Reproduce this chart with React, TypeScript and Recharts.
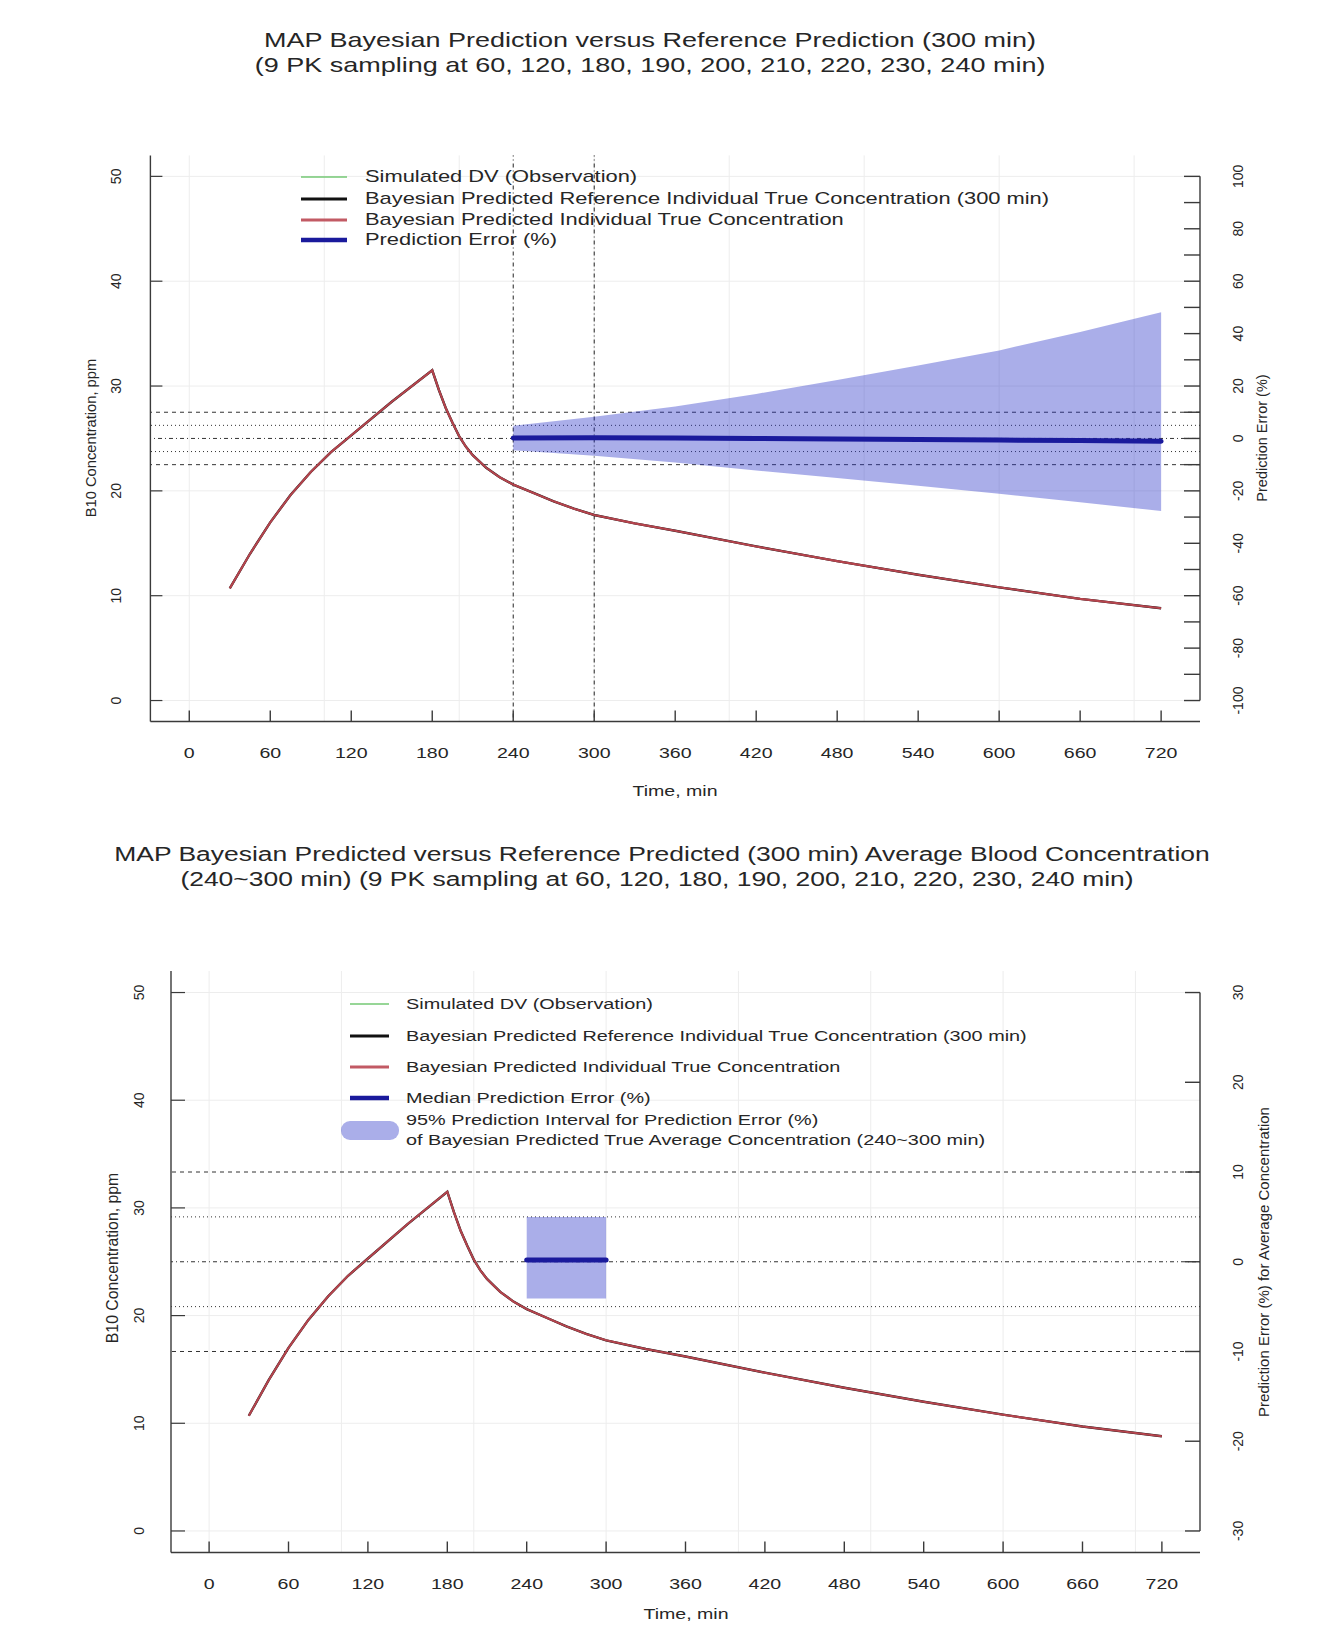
import React from "react";
import {
  ComposedChart,
  Line,
  Area,
  XAxis,
  YAxis,
  CartesianGrid,
  ReferenceLine,
} from "recharts";

// ---- data ----

// time (min) and B10 concentration (ppm) of the predicted curves
const concTimes = [
  30, 45, 60, 75, 90, 105, 120, 150, 180, 185, 190, 195, 200, 205, 210, 220,
  230, 240, 255, 270, 285, 300, 330, 360, 420, 480, 540, 600, 660, 720,
];
const predConc = [
  10.7, 14.0, 17.0, 19.6, 21.8, 23.7, 25.3, 28.5, 31.5, 29.6, 27.9, 26.5, 25.2,
  24.2, 23.4, 22.2, 21.3, 20.6, 19.8, 19.0, 18.3, 17.7, 16.9, 16.2, 14.7, 13.3,
  12.0, 10.8, 9.7, 8.8,
];
const refConc = [
  10.7, 14.0, 17.0, 19.6, 21.8, 23.7, 25.3, 28.5, 31.5, 29.6, 27.9, 26.5, 25.2,
  24.2, 23.4, 22.2, 21.3, 20.6, 19.8, 19.0, 18.3, 17.7, 16.9, 16.2, 14.7, 13.3,
  12.0, 10.8, 9.7, 8.8,
];

// prediction error (%) band, upper panel
const peTimes = [240, 300, 360, 420, 480, 540, 600, 660, 720];
const peUpper = [4.8, 8.3, 12.2, 17.0, 22.3, 27.8, 33.6, 40.6, 48.2];
const peLower = [-4.5, -6.6, -9.2, -12.2, -15.1, -18.0, -21.1, -24.3, -27.7];
const peMedian = [0.2, 0.3, 0.2, 0.0, -0.2, -0.4, -0.6, -0.8, -1.1];

// prediction error (%) of the 240~300 min average, lower panel
const avgTimes = [240, 300];
const avgUpper = [5.0, 5.0];
const avgLower = [-4.1, -4.1];
const avgMedian = [0.2, 0.2];

// axis ticks / guide levels
const xTicks = [0, 60, 120, 180, 240, 300, 360, 420, 480, 540, 600, 660, 720];
const concTicks = [0, 10, 20, 30, 40, 50];
const peTicksTop = [
  -100, -90, -80, -70, -60, -50, -40, -30, -20, -10, 0, 10, 20, 30, 40, 50, 60,
  70, 80, 90, 100,
];
const peTicksBottom = [-30, -20, -10, 0, 10, 20, 30];
const peLimits = [-10, -5, 0, 5, 10];
const samplingMarks = [240, 300];
const gridX = [0, 100, 200, 300, 400, 500, 600, 700];
const gridY = [0, 10, 20, 30, 40, 50];

// ---- look ----
const W = 1339;
const FONT = '"Liberation Sans", Arial, Helvetica, sans-serif';
const SX = 1.35; // the original raster has wide horizontal text
const AXIS = "#3a3a3a";
const TXT = "#262626";
const BAND = "#2a35c8";
const X_DOMAIN: [number, number] = [-28.8, 748.8];

const concRows = concTimes.map((t, i) => ({
  t,
  pred: predConc[i],
  ref: refConc[i],
}));
const peRows = peTimes.map((t, i) => ({
  t,
  band: [peLower[i], peUpper[i]],
  median: peMedian[i],
}));
const avgRows = avgTimes.map((t, i) => ({
  t,
  band: [avgLower[i], avgUpper[i]],
  median: avgMedian[i],
}));

const limitDash = (v: number) =>
  v === 0 ? "1 3 4 3" : Math.abs(v) === 5 ? "1 3" : "4 4";

type PanelSpec = {
  top: number;
  height: number;
  margin: { top: number; right: number; bottom: number; left: number };
  rightDomain: [number, number];
  rightTicks: number[];
  rightLabelEvery: number;
  leftTickLen: number;
  leftLabelOff: number;
  rightTickLen: number;
  rightLabelOff: number;
  vLines: number[];
  bandRows: { t: number; band: number[]; median: number }[];
  medianWidth: number;
};

// axes are 1px thick boxes so recharts still draws them; `ghost` keeps the
// same geometry on the overlay chart but draws nothing
function axes(s: PanelSpec, ghost: boolean) {
  const endTick = s.rightTicks[s.rightTicks.length - 1];
  return [
    <XAxis
      key="x"
      xAxisId="x"
      type="number"
      dataKey="t"
      domain={X_DOMAIN}
      ticks={xTicks}
      interval={0}
      allowDataOverflow
      height={1}
      tickSize={0}
      tickMargin={0}
      tickLine={false}
      axisLine={ghost ? false : { stroke: AXIS, strokeWidth: 1.4 }}
      tick={
        ghost
          ? false
          : (p: any) => (
              <g>
                <line x1={p.x} x2={p.x} y1={p.y} y2={p.y - 11} stroke={AXIS} strokeWidth={1.4} />
                <text
                  transform={`translate(${p.x},${p.y + 31}) scale(${SX},1)`}
                  textAnchor="middle"
                  dominantBaseline="central"
                  fontSize={14.5}
                  fontFamily={FONT}
                  fill={TXT}
                >
                  {p.payload.value}
                </text>
              </g>
            )
      }
    />,
    <YAxis
      key="l"
      yAxisId="l"
      type="number"
      domain={[-2, 52]}
      ticks={concTicks}
      interval={0}
      allowDataOverflow
      width={1}
      tickSize={0}
      tickMargin={0}
      tickLine={false}
      axisLine={ghost ? false : { stroke: AXIS, strokeWidth: 1.4 }}
      tick={
        ghost
          ? false
          : (p: any) => (
              <g>
                <line x1={p.x} x2={p.x + s.leftTickLen} y1={p.y} y2={p.y} stroke={AXIS} strokeWidth={1.2} />
                <text
                  transform={`translate(${p.x - s.leftLabelOff},${p.y}) rotate(-90)`}
                  textAnchor="middle"
                  dominantBaseline="central"
                  fontSize={14}
                  fontFamily={FONT}
                  fill={TXT}
                >
                  {p.payload.value}
                </text>
              </g>
            )
      }
    />,
    <YAxis
      key="r"
      yAxisId="r"
      orientation="right"
      type="number"
      domain={s.rightDomain}
      ticks={s.rightTicks}
      interval={0}
      allowDataOverflow
      width={1}
      tickSize={0}
      tickMargin={0}
      tickLine={false}
      axisLine={false}
      tick={
        ghost
          ? false
          : (p: any) => (
              <g>
                <line x1={p.x - s.rightTickLen} x2={p.x} y1={p.y} y2={p.y} stroke={AXIS} strokeWidth={1.4} />
                {p.payload.value % s.rightLabelEvery === 0 && (
                  <text
                    transform={`translate(${p.x + s.rightLabelOff},${p.y}) rotate(-90)`}
                    textAnchor="middle"
                    dominantBaseline="central"
                    fontSize={14}
                    fontFamily={FONT}
                    fill={TXT}
                  >
                    {p.payload.value}
                  </text>
                )}
              </g>
            )
      }
    />,
    !ghost && (
      <ReferenceLine
        key="raxis"
        xAxisId="x"
        yAxisId="r"
        segment={[
          { x: X_DOMAIN[1], y: -endTick },
          { x: X_DOMAIN[1], y: endTick },
        ]}
        stroke={AXIS}
        strokeWidth={1.4}
        ifOverflow="visible"
      />
    ),
  ];
}

function Panel({ s }: { s: PanelSpec }) {
  return (
    <div style={{ position: "absolute", left: 0, top: s.top, width: W, height: s.height }}>
      <div style={{ position: "absolute", left: 0, top: 0 }}>
        <ComposedChart width={W} height={s.height} data={concRows} margin={s.margin}>
          <CartesianGrid
            xAxisId="x"
            yAxisId="l"
            horizontalValues={gridY}
            verticalValues={gridX}
            stroke="#ededed"
          />
          {axes(s, false)}
          {peLimits.map((v) => (
            <ReferenceLine
              key={`lim${v}`}
              xAxisId="x"
              yAxisId="r"
              y={v}
              stroke="#333"
              strokeWidth={1}
              strokeDasharray={limitDash(v)}
            />
          ))}
          {s.vLines.map((v) => (
            <ReferenceLine
              key={`v${v}`}
              xAxisId="x"
              yAxisId="l"
              x={v}
              stroke="#222"
              strokeWidth={1}
              strokeDasharray="1 3 4 3"
            />
          ))}
          <Line
            xAxisId="x"
            yAxisId="l"
            type="linear"
            dataKey="ref"
            stroke="#151515"
            strokeWidth={2.4}
            dot={false}
            isAnimationActive={false}
          />
          <Line
            xAxisId="x"
            yAxisId="l"
            type="linear"
            dataKey="pred"
            stroke="#b5444d"
            strokeWidth={2.1}
            dot={false}
            isAnimationActive={false}
          />
        </ComposedChart>
      </div>
      <div style={{ position: "absolute", left: 0, top: 0 }}>
        <ComposedChart width={W} height={s.height} data={s.bandRows} margin={s.margin}>
          {axes(s, true)}
          <Area
            xAxisId="x"
            yAxisId="r"
            type="linear"
            dataKey="band"
            stroke="none"
            fill={BAND}
            fillOpacity={0.4}
            isAnimationActive={false}
          />
          <Line
            xAxisId="x"
            yAxisId="r"
            type="linear"
            dataKey="median"
            stroke="#1a1a9c"
            strokeWidth={s.medianWidth}
            strokeLinecap="round"
            dot={false}
            isAnimationActive={false}
          />
        </ComposedChart>
      </div>
    </div>
  );
}

const topSpec: PanelSpec = {
  top: 0,
  height: 810,
  margin: { top: 155.4, right: 138, bottom: 810 - 721.5 - 1, left: 149.4 },
  rightDomain: [-108, 108],
  rightTicks: peTicksTop,
  rightLabelEvery: 20,
  leftTickLen: 12,
  leftLabelOff: 34,
  rightTickLen: 16,
  rightLabelOff: 38,
  vLines: samplingMarks,
  bandRows: peRows,
  medianWidth: 5,
};

const bottomSpec: PanelSpec = {
  top: 810,
  height: 816,
  margin: { top: 161, right: 138, bottom: 816 - 742.5 - 1, left: 170 },
  rightDomain: [-32.4, 32.4],
  rightTicks: peTicksBottom,
  rightLabelEvery: 10,
  leftTickLen: 14,
  leftLabelOff: 32,
  rightTickLen: 15,
  rightLabelOff: 38,
  vLines: [],
  bandRows: avgRows,
  medianWidth: 5,
};

function HText({
  x,
  y,
  size,
  anchor = "start",
  children,
}: {
  x: number;
  y: number;
  size: number;
  anchor?: "start" | "middle" | "end";
  children: React.ReactNode;
}) {
  return (
    <text
      transform={`translate(${x},${y}) scale(${SX},1)`}
      textAnchor={anchor}
      dominantBaseline="central"
      fontSize={size}
      fontFamily={FONT}
      fill={TXT}
    >
      {children}
    </text>
  );
}

function VText({ x, y, size, children }: { x: number; y: number; size: number; children: React.ReactNode }) {
  return (
    <text
      transform={`translate(${x},${y}) rotate(-90)`}
      textAnchor="middle"
      dominantBaseline="central"
      fontSize={size}
      fontFamily={FONT}
      fill={TXT}
    >
      {children}
    </text>
  );
}

function Overlay() {
  const topRows = [177, 199, 220, 240];
  const botRows = [1004, 1036, 1067, 1098];
  return (
    <svg
      width={W}
      height={1626}
      style={{ position: "absolute", left: 0, top: 0, pointerEvents: "none" }}
    >
      {/* upper panel */}
      <HText x={650} y={39.5} size={20} anchor="middle">
        MAP Bayesian Prediction versus Reference Prediction (300 min)
      </HText>
      <HText x={650} y={64.5} size={20} anchor="middle">
        (9 PK sampling at 60, 120, 180, 190, 200, 210, 220, 230, 240 min)
      </HText>
      <HText x={675} y={791} size={14.5} anchor="middle">
        Time, min
      </HText>
      <VText x={91} y={438} size={14.7}>
        B10 Concentration, ppm
      </VText>
      <VText x={1262} y={438} size={14.5}>
        Prediction Error (%)
      </VText>

      <line x1={301} x2={347} y1={topRows[0]} y2={topRows[0]} stroke="#74c874" strokeWidth={1.6} />
      <line x1={301} x2={347} y1={topRows[1]} y2={topRows[1]} stroke="#111" strokeWidth={3} />
      <line x1={301} x2={347} y1={topRows[2]} y2={topRows[2]} stroke="#c25a64" strokeWidth={3} />
      <line x1={301} x2={347} y1={topRows[3]} y2={topRows[3]} stroke="#1a1a9c" strokeWidth={4.5} />
      <HText x={365} y={topRows[0]} size={16.2}>Simulated DV (Observation)</HText>
      <HText x={365} y={topRows[1]} size={16.2}>
        Bayesian Predicted Reference Individual True Concentration (300 min)
      </HText>
      <HText x={365} y={topRows[2]} size={16.2}>
        Bayesian Predicted Individual True Concentration
      </HText>
      <HText x={365} y={topRows[3]} size={16.2}>Prediction Error (%)</HText>

      {/* lower panel */}
      <HText x={662} y={854} size={19.6} anchor="middle">
        MAP Bayesian Predicted versus Reference Predicted (300 min) Average Blood Concentration
      </HText>
      <HText x={657} y={879} size={19.6} anchor="middle">
        (240~300 min) (9 PK sampling at 60, 120, 180, 190, 200, 210, 220, 230, 240 min)
      </HText>
      <HText x={686} y={1614} size={14.5} anchor="middle">
        Time, min
      </HText>
      <VText x={112} y={1258} size={15.8}>
        B10 Concentration, ppm
      </VText>
      <VText x={1263} y={1262} size={15}>
        Prediction Error (%) for Average Concentration
      </VText>

      <line x1={350} x2={389} y1={botRows[0]} y2={botRows[0]} stroke="#74c874" strokeWidth={1.6} />
      <line x1={350} x2={389} y1={botRows[1]} y2={botRows[1]} stroke="#111" strokeWidth={3} />
      <line x1={350} x2={389} y1={botRows[2]} y2={botRows[2]} stroke="#c25a64" strokeWidth={3} />
      <line x1={350} x2={389} y1={botRows[3]} y2={botRows[3]} stroke="#1a1a9c" strokeWidth={4.5} />
      <rect x={341} y={1121} width={58} height={19} rx={9} fill={BAND} fillOpacity={0.4} />
      <HText x={406} y={botRows[0]} size={14.7}>Simulated DV (Observation)</HText>
      <HText x={406} y={botRows[1]} size={14.7}>
        Bayesian Predicted Reference Individual True Concentration (300 min)
      </HText>
      <HText x={406} y={botRows[2]} size={14.7}>
        Bayesian Predicted Individual True Concentration
      </HText>
      <HText x={406} y={botRows[3]} size={14.7}>Median Prediction Error (%)</HText>
      <HText x={406} y={1120} size={14.7}>
        95% Prediction Interval for Prediction Error (%)
      </HText>
      <HText x={406} y={1140} size={14.7}>
        of Bayesian Predicted True Average Concentration (240~300 min)
      </HText>
    </svg>
  );
}

export default function App() {
  return (
    <div
      style={{
        position: "absolute",
        left: 0,
        top: 0,
        width: W,
        height: 1626,
        background: "#fff",
        overflow: "hidden",
      }}
    >
      <Panel s={topSpec} />
      <Panel s={bottomSpec} />
      <Overlay />
    </div>
  );
}
